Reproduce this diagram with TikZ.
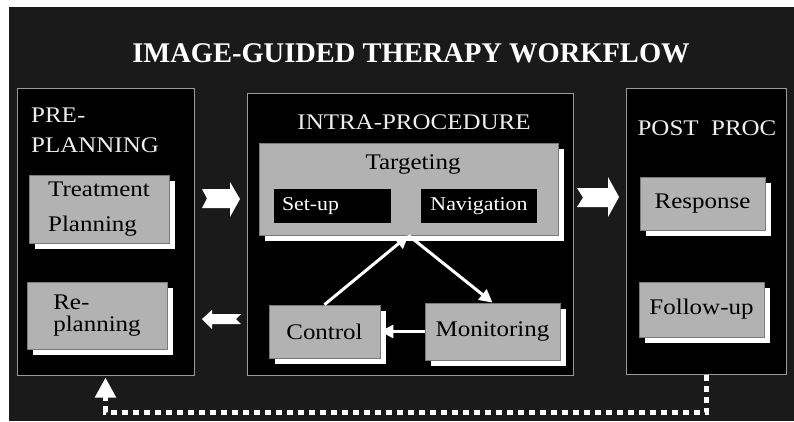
\documentclass[tikz,border=0pt]{standalone}
\usepackage{fontspec}
\setmainfont[FakeStretch=1.12]{Liberation Serif}
\newfontfamily\titlefont{Liberation Serif}
\usetikzlibrary{arrows.meta,shadows}
\definecolor{bgdark}{HTML}{1A1A1A}
\definecolor{boxgray}{HTML}{B2B2B2}
\definecolor{boxedge}{HTML}{7A7A7A}
\definecolor{paneledge}{HTML}{9A9A9A}
\definecolor{hdrcol}{HTML}{EEEEEE}
\begin{document}
\begin{tikzpicture}[x=1pt,y=-1pt,
  panel/.style={draw=paneledge, line width=1pt, fill=black, inner sep=0pt},
  graybox/.style={draw=boxedge, line width=0.8pt, fill=boxgray, inner sep=0pt, text=black,
    font=\fontsize{22.3}{26}\selectfont,
    drop shadow={shadow xshift=6pt, shadow yshift=-6pt, fill=white, opacity=1}},
  darkbox/.style={fill=black, inner sep=0pt, text=white, font=\fontsize{19.5}{22}\selectfont},
  hdr/.style={text=hdrcol, font=\fontsize{22.3}{26}\selectfont, inner sep=0pt},
  flow/.style={draw=white, line width=3pt, -{Triangle[length=13pt,width=13pt]}},
  blockarrow/.style={fill=white},
  feedback/.style={draw=white, line width=5pt, dash pattern=on 6pt off 5pt,
    -{Triangle[length=20pt,width=20pt]}, shorten >=2pt}]
\useasboundingbox (0,0) rectangle (794,421);
\fill[white] (0,0) rectangle (794,421);
\fill[bgdark] (9,7) rectangle (794,421);

% title
\node[font=\titlefont\bfseries\fontsize{28.5}{30}\selectfont, text=white, anchor=base, inner sep=0pt]
  (title) at (411,62) {IMAGE-GUIDED THERAPY WORKFLOW};

% panels
\node[panel, minimum width=177pt, minimum height=287pt] (pre) at (105.5,231.5) {};
\node[panel, minimum width=326pt, minimum height=282pt] (intra) at (410,234) {};
\node[panel, minimum width=160pt, minimum height=286pt] (post) at (706,231) {};

% headers
\node[hdr, anchor=base west] (prea) at (31,122) {PRE-};
\node[hdr, anchor=base west] (preb) at (31,152) {PLANNING};
\node[hdr, anchor=base] (intrahdr) at (414,129) {INTRA-PROCEDURE};
\node[hdr, anchor=base] (posthdr) at (707,135) {POST\ \ PROC};

% pre-planning boxes
\node[graybox, minimum width=140pt, minimum height=68pt, align=left,
  font=\fontsize{22.3}{35}\selectfont] (treat) at (99,209) {Treatment\\Planning};
\node[graybox, minimum width=140pt, minimum height=67pt, align=left,
  font=\fontsize{22.3}{21.5}\selectfont] (replan) at (97,315.5) {Re-\\planning};

% intra-procedure boxes
\node[graybox, minimum width=299pt, minimum height=92pt] (target) at (408.5,189) {};
\node[anchor=base, inner sep=0pt, text=black, font=\fontsize{22.3}{26}\selectfont]
  (targetlbl) at (413,169) {Targeting};
\node[darkbox, minimum width=117pt, minimum height=34pt, text width=101pt, align=left]
  (setup) at (332.5,206) {Set-up};
\node[darkbox, minimum width=116pt, minimum height=34pt] (navig) at (479,206) {Navigation};
\node[graybox, minimum width=111pt, minimum height=53pt] (control) at (324.5,331.5) {Control};
\node[graybox, minimum width=135pt, minimum height=57pt] (monit) at (492.5,331.5) {Monitoring};

% post boxes
\node[graybox, minimum width=125pt, minimum height=53pt] (resp) at (702.5,203.5) {Response};
\node[graybox, minimum width=125pt, minimum height=55pt] (follow) at (701.5,309.5) {Follow-up};

% flow arrows inside intra-procedure
\draw[flow] (control.north) -- (target.south);
\draw[flow] (target.south) -- (monit.north);
\draw[flow] (monit.west) -- (control.east);

% block arrows between panels
\fill[blockarrow] (202,189) -- (230,189) -- (230,182) -- (240,199) -- (230,217)
  -- (230,208) -- (202,208) -- (207,198.5) -- cycle;
\fill[blockarrow] (202,319) -- (212,310) -- (212,314) -- (241,314) -- (236,319)
  -- (241,324) -- (212,324) -- (212,329) -- cycle;
\fill[blockarrow] (577,188) -- (608,188) -- (608,177) -- (619,197) -- (608,217)
  -- (608,207) -- (577,207) -- (583,197.5) -- cycle;

% feedback loop
\coordinate (fbl) at (0,412);
\draw[feedback] (post.south) -- (post.south |- fbl) -- (pre.south |- fbl) -- (pre.south);
\end{tikzpicture}
\end{document}
